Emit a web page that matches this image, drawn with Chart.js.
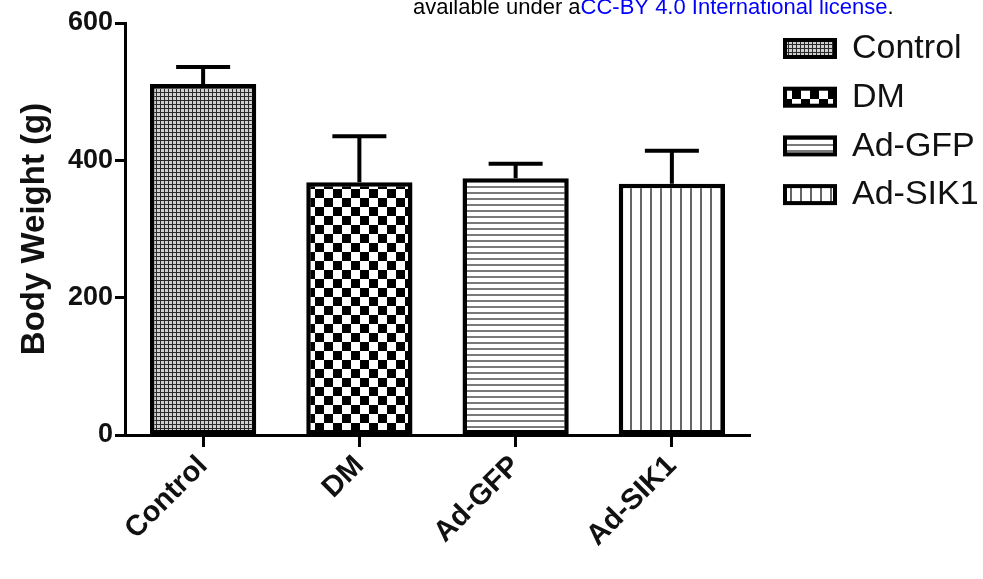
<!DOCTYPE html>
<html>
<head>
<meta charset="utf-8">
<script src="https://cdn.jsdelivr.net/npm/chart.js@4/dist/chart.umd.min.js"></script>
<style>
html,body{margin:0;padding:0;background:#fff;}
#c{display:block;}
</style>
</head>
<body>
<canvas id="c" width="983" height="579"></canvas>
<script>
const groups=['Control','DM','Ad-GFP','Ad-SIK1'];
const weight=[511,368,374,366];
const errUp=[25,67,21,48];
const yTicks=[0,200,400,600];

const FONT='"Liberation Sans", Arial, Helvetica, sans-serif';

// fill patterns for the bars
function pat(w,h,draw){
  const c=document.createElement('canvas');
  c.width=w;c.height=h;
  const g=c.getContext('2d');
  draw(g);
  return document.getElementById('c').getContext('2d').createPattern(c,'repeat');
}
const fills=[
  pat(4,4,g=>{g.fillStyle='#d0d0d0';g.fillRect(0,0,4,4);g.fillStyle='#2a2a2a';g.fillRect(0,0,4,1);g.fillRect(0,0,1,4);}),
  pat(18,18,g=>{g.fillStyle='#fff';g.fillRect(0,0,18,18);g.fillStyle='#000';g.fillRect(0,0,9,9);g.fillRect(9,9,9,9);}),
  pat(4,6,g=>{g.fillStyle='#fff';g.fillRect(0,0,4,6);g.fillStyle='#7a7a7a';g.fillRect(0,0,4,2);}),
  pat(10,4,g=>{g.fillStyle='#fff';g.fillRect(0,0,10,4);g.fillStyle='#666';g.fillRect(0,0,2,4);})
];

const errorBars={
  id:'errorBars',
  afterDatasetsDraw(chart){
    const ctx=chart.ctx,y=chart.scales.y;
    const meta=chart.getDatasetMeta(0);
    ctx.save();
    ctx.strokeStyle='#000';ctx.lineWidth=4;ctx.lineCap='butt';
    meta.data.forEach((bar,i)=>{
      const top=y.getPixelForValue(weight[i]+errUp[i]);
      ctx.beginPath();
      ctx.moveTo(bar.x,bar.y);ctx.lineTo(bar.x,top);
      ctx.moveTo(bar.x-27,top);ctx.lineTo(bar.x+27,top);
      ctx.stroke();
    });
    ctx.restore();
  }
};

const sideLegend={
  id:'sideLegend',
  afterDraw(chart){
    const ctx=chart.ctx;
    ctx.save();
    groups.forEach((g,i)=>{
      const cy=48+i*48.7;
      ctx.fillStyle=fills[i];
      ctx.fillRect(785,cy-8,50,17);
      ctx.strokeStyle='#000';ctx.lineWidth=4;
      ctx.strokeRect(785,cy-8,50,17);
      ctx.fillStyle='#111';
      ctx.font='34px '+FONT;
      ctx.textBaseline='middle';
      ctx.fillText(g,852,cy+1);
    });
    // licence line at the top edge
    ctx.font='22px '+FONT;
    ctx.textBaseline='alphabetic';
    let x=413;
    [['available under a','#000'],['CC-BY 4.0 International license','#0000ff'],['.','#000']].forEach(([t,col])=>{
      ctx.fillStyle=col;ctx.fillText(t,x,14);x+=ctx.measureText(t).width;
    });
    ctx.restore();
  }
};

new Chart(document.getElementById('c'),{
  type:'bar',
  data:{
    labels:groups,
    datasets:[{
      data:weight,
      backgroundColor:fills,
      borderColor:'#000',
      borderWidth:4.5,
      borderSkipped:false,
      barPercentage:0.68,
      categoryPercentage:1
    }]
  },
  options:{
    responsive:false,
    animation:false,
    layout:{padding:{top:23,right:233,bottom:0,left:0}},
    plugins:{legend:{display:false},tooltip:{enabled:false}},
    scales:{
      x:{
        afterFit:s=>{s.height=144;},
        border:{display:true,color:'#000',width:3},
        grid:{display:true,offset:false,drawOnChartArea:false,drawTicks:true,tickLength:12,tickWidth:3,tickColor:'#000'},
        ticks:{color:'#111',font:{family:FONT,size:29,weight:'bold'},minRotation:45,maxRotation:45,padding:2}
      },
      y:{
        min:0,max:600,
        afterFit:s=>{s.width=125;},
        afterBuildTicks:s=>{s.ticks=yTicks.map(v=>({value:v}));},
        border:{display:true,color:'#000',width:3},
        grid:{display:true,drawOnChartArea:false,drawTicks:true,tickLength:10,tickWidth:3,tickColor:'#000'},
        ticks:{color:'#111',font:{family:FONT,size:27,weight:'bold'},padding:2},
        title:{display:true,text:'Body Weight (g)',color:'#111',font:{family:FONT,size:33,weight:'bold'},padding:{top:15,bottom:0}}
      }
    }
  },
  plugins:[errorBars,sideLegend]
});
</script>
</body>
</html>
